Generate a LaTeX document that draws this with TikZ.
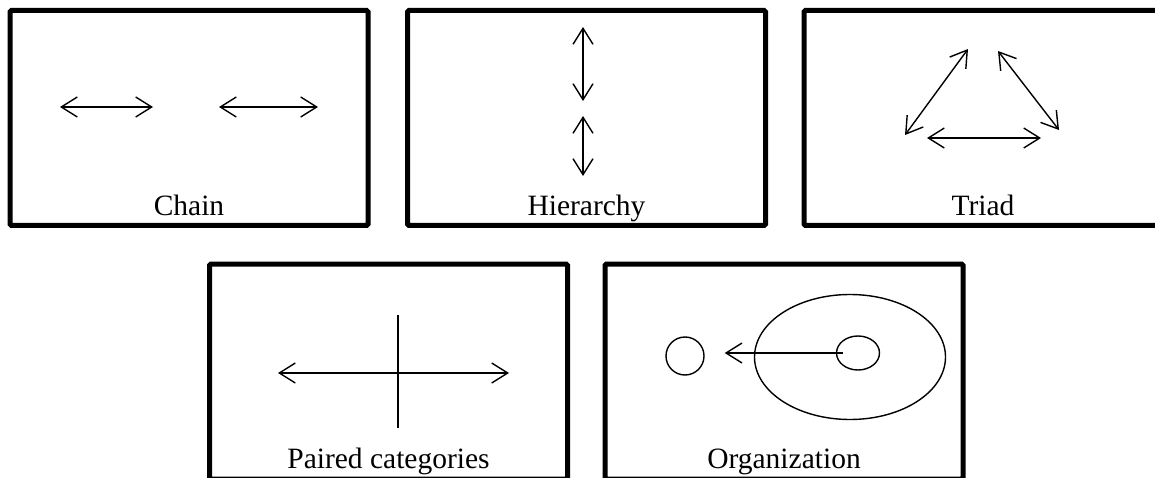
\documentclass[tikz,border=0pt]{standalone}
\usepackage{fontspec}
\setmainfont{Liberation Serif}
\usetikzlibrary{arrows.meta,shapes.geometric,positioning}

\begin{document}
\begin{tikzpicture}[x=1pt, y=-1pt, >={Straight Barb[length=16pt,width=20pt]},
  panel/.style={draw, line width=5pt, rounded corners=1.5pt, minimum width=358pt, minimum height=215pt, inner sep=0pt},
  lbl/.style={font=\fontsize{29.5}{34}\selectfont, anchor=base, inner sep=0pt},
  link/.style={line width=1.4pt},
  every node/.style={align=center}]
  \useasboundingbox (0,0) rectangle (1155,478);

  % panels, top row and bottom row
  \node[panel] (chain) at (189,118) {};
  \node[panel] (hier) at (586.5,118) {};
  \node[panel] (triad) at (983,118) {};
  \node[panel] (paired) at (388.5,371.5) {};
  \node[panel] (org) at (784,371.5) {};

  % captions
  \node[lbl] (chainlbl) at ([yshift=12pt]chain.south) {Chain};
  \node[lbl] (hierlbl) at ([yshift=12pt]hier.south) {Hierarchy};
  \node[lbl] (triadlbl) at ([yshift=12pt]triad.south) {Triad};
  \node[lbl] (pairedlbl) at ([yshift=13pt]paired.south) {Paired categories};
  \node[lbl] (orglbl) at ([yshift=13pt]org.south) {Organization};

  % chain
  \coordinate (c1) at (60,107);
  \coordinate (c2) at (153,107);
  \coordinate (c3) at (219,107);
  \coordinate (c4) at (318,107);
  \draw[link, <->] (c1) -- (c2);
  \draw[link, <->] (c3) -- (c4);

  % hierarchy
  \coordinate (h1) at (583,27);
  \coordinate (h2) at (583,101);
  \coordinate (h3) at (583,116);
  \coordinate (h4) at (583,176);
  \draw[link, <->] (h1) -- (h2);
  \draw[link, <->] (h3) -- (h4);

  % triad
  \coordinate (t1) at (905,135);
  \coordinate (t2) at (968,49);
  \coordinate (t3) at (998,51);
  \coordinate (t4) at (1059,130);
  \coordinate (t5) at (927,138);
  \coordinate (t6) at (1041,138);
  \draw[link, <->] (t1) -- (t2);
  \draw[link, <->] (t3) -- (t4);
  \draw[link, <->] (t5) -- (t6);

  % paired categories
  \coordinate (p1) at (278,373);
  \coordinate (p2) at (509,373);
  \coordinate (p3) at (398,315);
  \coordinate (p4) at (398,428);
  \draw[link, <->] (p1) -- (p2);
  \draw[link] (p3) -- (p4);

  % organization
  \node[draw, link, circle, minimum size=38pt, inner sep=0pt] (member) at (685,356) {};
  \node[draw, link, ellipse, minimum width=191pt, minimum height=125pt, inner sep=0pt] (outer) at (850,357) {};
  \node[draw, link, ellipse, minimum width=43pt, minimum height=34pt, inner sep=0pt] (inner) at (858,353) {};
  \draw[link, ->] ([xshift=-15pt]inner.center) -- ([xshift=20pt]member.east |- inner.center);
\end{tikzpicture}
\end{document}
